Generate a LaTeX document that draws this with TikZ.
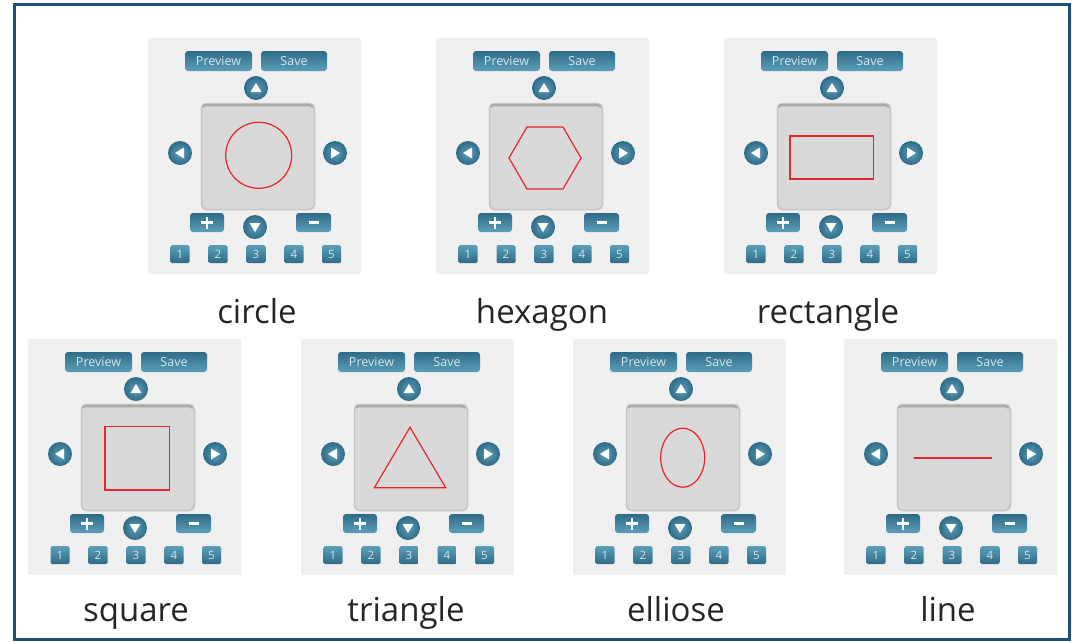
\documentclass[tikz,border=0pt]{standalone}
\usepackage{fontspec}
\setmainfont{Open Sans}
\usetikzlibrary{shadings}
\definecolor{frameblue}{HTML}{1F4E79}
\definecolor{panelbg}{HTML}{F0F0F0}
\definecolor{dispfill}{HTML}{D9D9D9}
\definecolor{dispedge}{HTML}{C6C6C6}
\definecolor{dispshadow}{HTML}{ADADAD}
\definecolor{btntop}{HTML}{2F6B86}
\definecolor{btnbot}{HTML}{5C9FBA}
\definecolor{btntext}{HTML}{D5E7EF}
\definecolor{shapered}{HTML}{E8262A}
\definecolor{labeltext}{HTML}{262626}
\tikzset{
  panelbox/.style={fill=panelbg, draw=none, minimum width=213pt, minimum height=236pt, inner sep=0pt},
  dispbox/.style={fill=dispfill, draw=dispedge, line width=1.5pt, rounded corners=5pt, minimum width=113pt, minimum height=106pt, inner sep=0pt},
  rectbtn/.style={rounded corners=3pt, top color=btntop, bottom color=btnbot, draw=none, text=btntext, font=\fontsize{12.5}{13}\selectfont, inner sep=0pt, minimum height=20pt},
  numbtn/.style={rounded corners=1.5pt, top color=btnbot, bottom color=btntop, draw=none, text=btntext, font=\fontsize{11.5}{12}\selectfont, inner sep=0pt, minimum width=19pt, minimum height=18pt},
  roundbtn/.style={circle, minimum size=24pt, inner sep=0pt, inner color=btnbot, outer color=btntop, draw=none},
  tipfill/.style={fill=white, draw=none},
  signline/.style={white, line width=2.4pt},
  redshape/.style={draw=shapered, line width=1.2pt},
  caption/.style={font=\fontsize{33}{36}\selectfont, text=labeltext, anchor=base, inner sep=0pt}
}
\newcommand\uipanel[4]{%
\begin{scope}[shift={(#2,#3)}]
  \node[panelbox, anchor=north west] (#1-bg) at (0,0) {};
  \node[rectbtn, minimum width=67pt] (#1-prev) at (70.5,23) {Preview};
  \node[rectbtn, minimum width=66pt] (#1-save) at (146,23) {Save};
  \node[roundbtn] (#1-up) at (108,50) {};
  \node[roundbtn] (#1-left) at (32,115) {};
  \node[roundbtn] (#1-right) at (187,115) {};
  \node[roundbtn] (#1-down) at (107,189) {};
  \node[dispbox] (#1-disp) at (110,118.5) {};
  \fill[dispshadow, rounded corners=4pt] (#1-disp.north west) ++(1,1) -- ++(0,5) -- ++(111,0) -- ++(0,-5) -- cycle;
  \fill[dispfill, rounded corners=4pt] (#1-disp.north west) ++(1.5,3.5) rectangle ++(110,6);
  \node[rectbtn, minimum width=34pt, minimum height=19pt] (#1-plus) at (59,184.5) {};
  \node[rectbtn, minimum width=35pt, minimum height=19pt] (#1-minus) at (165.5,184.5) {};
  \node[numbtn] (#1-n1) at (32,216) {1};
  \node[numbtn] (#1-n2) at (70,216) {2};
  \node[numbtn] (#1-n3) at (108,216) {3};
  \node[numbtn] (#1-n4) at (146,216) {4};
  \node[numbtn] (#1-n5) at (183.5,216) {5};
  \fill[tipfill] (#1-up.center) ++(0,-5) -- ++(5.5,9) -- ++(-11,0) -- cycle;
  \fill[tipfill] (#1-down.center) ++(0,5) -- ++(5.5,-9) -- ++(-11,0) -- cycle;
  \fill[tipfill] (#1-left.center) ++(-5,0) -- ++(9,-5.5) -- ++(0,11) -- cycle;
  \fill[tipfill] (#1-right.center) ++(5,0) -- ++(-9,-5.5) -- ++(0,11) -- cycle;
  \draw[signline] (#1-plus.center) ++(-6,0) -- ++(12,0);
  \draw[signline] (#1-plus.center) ++(0,-6) -- ++(0,12);
  \draw[signline] (#1-minus.center) ++(-5,0) -- ++(10,0);
  #4
\end{scope}}
\begin{document}
\begin{tikzpicture}[x=1pt,y=-1pt]
\useasboundingbox (0,0) rectangle (1072,641);
\fill[white] (0,0) rectangle (1072,641);
% top row
\uipanel{pa}{148}{38}{\draw[redshape] (110.7,117.3) circle[radius=33];}
\uipanel{pb}{436}{38}{\draw[redshape] (73,120) -- (91,89) -- (127,89) -- (145,120) -- (127,151) -- (91,151) -- cycle;}
\uipanel{pc}{724}{38}{\draw[redshape] (66,98) rectangle (149.7,141);}
% bottom row
\uipanel{pd}{28}{339}{\draw[redshape] (77,87.7) rectangle (141.3,151);}
\uipanel{pe}{301}{339}{\draw[redshape] (109,88.3) -- (144.7,148.7) -- (73.3,148.7) -- cycle;}
\uipanel{pf}{573}{339}{\draw[redshape] (109.7,118.7) ellipse[x radius=22, y radius=29.5];}
\uipanel{pg}{844}{339}{\draw[redshape, line width=2pt] (70,119) -- (147.7,119);}
% captions
\node[caption] (ca) at (257,323) {circle};
\node[caption] (cb) at (542,323) {hexagon};
\node[caption] (cc) at (828,323) {rectangle};
\node[caption] (cd) at (136,621.5) {square};
\node[caption] (ce) at (406,621.5) {triangle};
\node[caption] (cf) at (676,621.5) {elliose};
\node[caption] (cg) at (948,621.5) {line};
% frame
\draw[frameblue, line width=3pt] (14,4) rectangle (1069,639);
\end{tikzpicture}
\end{document}
